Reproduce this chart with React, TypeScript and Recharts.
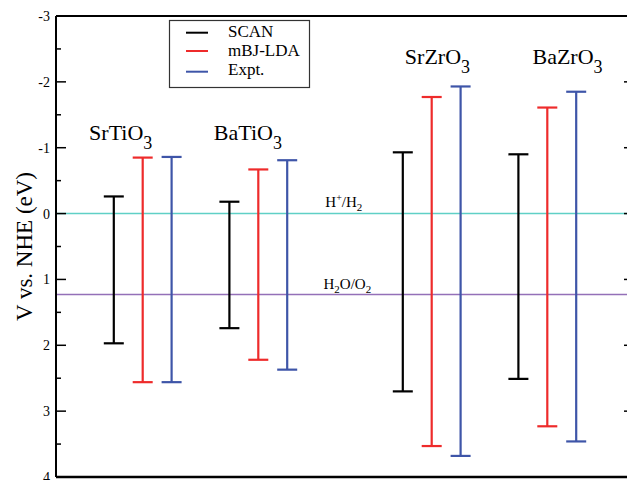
import React from "react";
import {
  ComposedChart,
  Scatter,
  ErrorBar,
  XAxis,
  YAxis,
  ReferenceLine,
  ReferenceDot,
} from "recharts";

// ---- data ----
const compounds = ["SrTiO", "BaTiO", "SrZrO", "BaZrO"];
const compoundSub = ["3", "3", "3", "3"];
const scanX = [1, 3, 6, 8];
const mbjX = [1.5, 3.5, 6.5, 8.5];
const exptX = [2, 4, 7, 9];
// conduction band minimum (top of bar) and valence band maximum (bottom of bar), V vs NHE
const scanCBM = [-0.26, -0.18, -0.93, -0.9];
const scanVBM = [1.97, 1.74, 2.7, 2.51];
const mbjCBM = [-0.85, -0.67, -1.77, -1.61];
const mbjVBM = [2.56, 2.22, 3.53, 3.23];
const exptCBM = [-0.86, -0.81, -1.93, -1.85];
const exptVBM = [2.56, 2.37, 3.68, 3.46];
const yTicks = [-3, -2.5, -2, -1.5, -1, -0.5, 0, 0.5, 1, 1.5, 2, 2.5, 3, 3.5, 4];
const hydrogenLevel = 0;
const oxygenLevel = 1.23;
const compoundLabelX = [1.12, 3.32, 6.6, 8.85];
const compoundLabelY = [-1.12, -1.11, -2.27, -2.27];
const seriesNames = ["SCAN", "mBJ-LDA", "Expt."];

const FONT = '"Liberation Serif", "Times New Roman", serif';
const COLORS = ["#000000", "#ee2b2b", "#3e55a8"];

const rows = (xs: number[], top: number[], bottom: number[]) =>
  xs.map((x, i) => ({ x, y: top[i], err: [0, bottom[i] - top[i]] }));

const scanRows = rows(scanX, scanCBM, scanVBM);
const mbjRows = rows(mbjX, mbjCBM, mbjVBM);
const exptRows = rows(exptX, exptCBM, exptVBM);

const LeftTick = (p: any) => {
  const { x, y, payload } = p;
  const v = payload.value;
  const major = Number.isInteger(v);
  const ax = x + 6;
  return (
    <g>
      <line x1={ax} x2={ax + (major ? 10 : 5)} y1={y} y2={y} stroke="#000" strokeWidth={1.5} />
      {major && (
        <text x={x} y={y} dy={5} textAnchor="end" fontFamily={FONT} fontSize={14} fill="#000">
          {String(v)}
        </text>
      )}
    </g>
  );
};

const RightTick = (p: any) => {
  const { x, y, payload } = p;
  const major = Number.isInteger(payload.value);
  return <line x1={x - (major ? 10 : 5)} x2={x + 2} y1={y} y2={y} stroke="#000" strokeWidth={1.5} />;
};

const hidden = () => <g />;

const compoundLabel = (i: number) => (props: any) => {
  const vb = props.viewBox || {};
  const cx = vb.x + (vb.width || 0) / 2;
  const cy = vb.y + (vb.height || 0) / 2;
  return (
    <text x={cx} y={cy} textAnchor="middle" fontFamily={FONT} fontSize={22} fill="#000">
      {compounds[i]}
      <tspan dy={9} fontSize={18}>{compoundSub[i]}</tspan>
    </text>
  );
};

const hLabel = (props: any) => {
  const vb = props.viewBox;
  const cx = vb.x + vb.width * 0.498;
  return (
    <text x={cx} y={vb.y - 7} textAnchor="middle" fontFamily={FONT} fontSize={15} fill="#000">
      H<tspan dy={-6} fontSize={10}>+</tspan>
      <tspan dy={6}>/H</tspan>
      <tspan dy={4} fontSize={11}>2</tspan>
    </text>
  );
};

const oLabel = (props: any) => {
  const vb = props.viewBox;
  const cx = vb.x + vb.width * 0.504;
  return (
    <text x={cx} y={vb.y - 6} textAnchor="middle" fontFamily={FONT} fontSize={15} fill="#000">
      H<tspan dy={4} fontSize={11}>2</tspan>
      <tspan dy={-4}>O/O</tspan>
      <tspan dy={4} fontSize={11}>2</tspan>
    </text>
  );
};

const yLabel = (props: any) => {
  const vb = props.viewBox;
  const x = vb.x + 24;
  const y = vb.y + vb.height / 2;
  return (
    <text
      x={x}
      y={y}
      transform={`rotate(-90 ${x} ${y})`}
      textAnchor="middle"
      fontFamily={FONT}
      fontSize={23}
      fill="#000"
    >
      V vs. NHE (eV)
    </text>
  );
};

export default function App() {
  const series = [scanRows, mbjRows, exptRows];
  return (
    <div style={{ position: "relative", width: 627, height: 472 }}>
      <ComposedChart
        width={627}
        height={472}
        margin={{ top: 6, right: 0, bottom: 0, left: 0 }}
      >
        <XAxis
          dataKey="x"
          type="number"
          domain={[0, 10]}
          allowDataOverflow
          tick={false}
          tickLine={false}
          height={3}
          axisLine={{ stroke: "#000", strokeWidth: 2.5 }}
        />
        <XAxis
          xAxisId="top"
          orientation="top"
          type="number"
          domain={[0, 10]}
          tick={false}
          tickLine={false}
          height={2}
          axisLine={{ stroke: "#000", strokeWidth: 2 }}
        />
        <YAxis
          dataKey="y"
          type="number"
          domain={[-3, 4]}
          reversed
          allowDataOverflow
          ticks={yTicks}
          interval={0}
          tickSize={0}
          tickMargin={6}
          tickLine={false}
          tick={(p: any) => <LeftTick {...p} />}
          width={48}
          axisLine={{ stroke: "#000", strokeWidth: 2 }}
          label={yLabel}
        />
        <YAxis
          yAxisId="r"
          orientation="right"
          type="number"
          domain={[-3, 4]}
          reversed
          allowDataOverflow
          ticks={yTicks}
          interval={0}
          tickSize={0}
          tickMargin={0}
          tickLine={false}
          axisLine={false}
          tick={(p: any) => <RightTick {...p} />}
          width={1}
        />
        <ReferenceLine y={hydrogenLevel} stroke="#5fd0c6" strokeWidth={1.5} label={hLabel} />
        <ReferenceLine y={oxygenLevel} stroke="#9470b8" strokeWidth={1.5} label={oLabel} />
        {series.map((data, s) => (
          <Scatter
            key={seriesNames[s]}
            name={seriesNames[s]}
            data={data}
            fill="none"
            shape={hidden}
            isAnimationActive={false}
          >
            <ErrorBar
              dataKey="err"
              direction="y"
              width={10}
              stroke={COLORS[s]}
              strokeWidth={2.2}
              isAnimationActive={false}
            />
          </Scatter>
        ))}
        {compounds.map((c, i) => (
          <ReferenceDot
            key={c}
            x={compoundLabelX[i]}
            y={compoundLabelY[i]}
            r={0}
            fill="none"
            stroke="none"
            ifOverflow="visible"
            label={compoundLabel(i)}
          />
        ))}
      </ComposedChart>
      <svg
        width={627}
        height={472}
        style={{ position: "absolute", left: 0, top: 0, pointerEvents: "none" }}
      >
        <rect x={161.5} y={12.5} width={140} height={67} fill="#fff" stroke="#333" strokeWidth={1.2} />
        {[24.7, 43, 63.7].map((ly, i) => (
          <line key={i} x1={178} x2={200} y1={ly} y2={ly} stroke={COLORS[i]} strokeWidth={2} />
        ))}
        {[29, 48, 67].map((ty, i) => (
          <text key={i} x={220} y={ty} fontFamily={FONT} fontSize={17} fill="#000">
            {seriesNames[i]}
          </text>
        ))}
      </svg>
    </div>
  );
}
